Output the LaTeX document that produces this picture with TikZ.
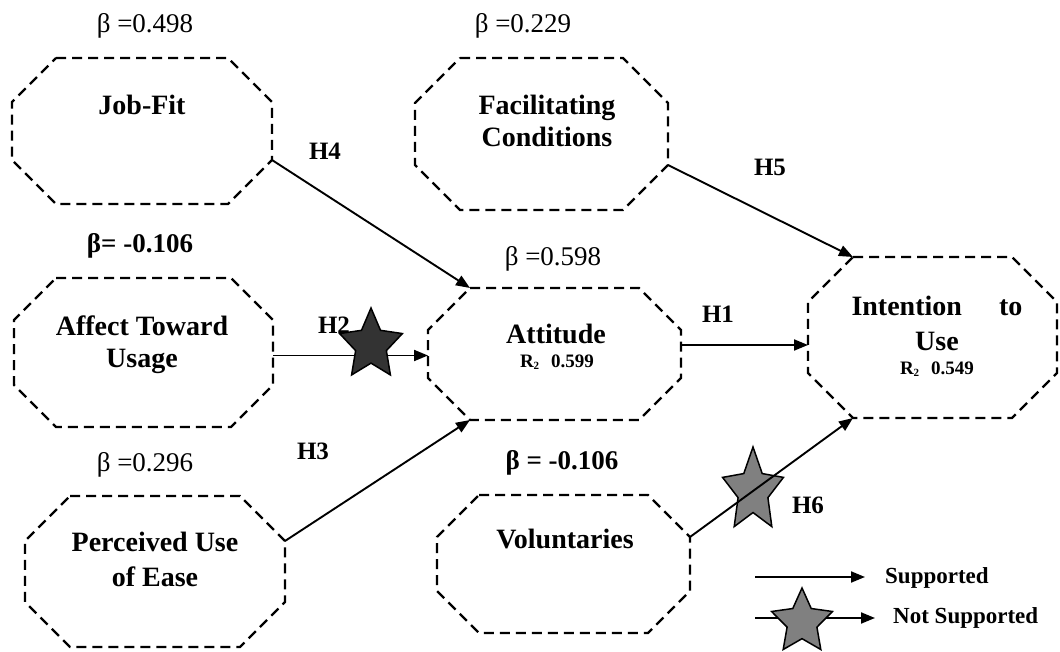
\documentclass[tikz,border=0pt]{standalone}
\usepackage{fontspec}
\setmainfont{Liberation Serif}
\usetikzlibrary{arrows.meta,calc}

% dashed octagon: name, left, top, right, bottom, chamfer
\newcommand\octagon[6]{%
  \draw[octo] (#2+#6,#3) -- (#4-#6,#3) -- (#4,#3+#6) -- (#4,#5-#6)
    -- (#4-#6,#5) -- (#2+#6,#5) -- (#2,#5-#6) -- (#2,#3+#6) -- cycle;
  \coordinate (#1) at ({(#2+#4)/2},{(#3+#5)/2});
  \coordinate (#1-e) at (#4,{(#3+#5)/2});
  \coordinate (#1-w) at (#2,{(#3+#5)/2});
  \coordinate (#1-tl) at (#2+#6,#3);
  \coordinate (#1-bl) at (#2+#6,#5);
  \coordinate (#1-rt) at (#4,#3+#6);
  \coordinate (#1-rb) at (#4,#5-#6);
}
% five-pointed star: name, x, y, x radius, y radius, style
\newcommand\fivestar[6]{%
  \coordinate (#1) at (#2,#3);
  \draw[#6] ($(#1)+(270:#4 and #5)$)
    \foreach \k in {1,...,9}{
      -- ($(#1)+({270+36*\k}:{#4*ifthenelse(mod(\k,2)==1,0.49,1)} and {#5*ifthenelse(mod(\k,2)==1,0.49,1)})$)
    } -- cycle;
}
\newcommand\rsq[1]{R\raisebox{-0.12em}{\fontsize{11}{11}\selectfont 2}\hspace{12pt}#1}

\begin{document}
\begin{tikzpicture}[x=1pt,y=-1pt,
  octo/.style={draw=black, line width=2.2pt, dash pattern=on 10pt off 6pt},
  link/.style={draw=black, line width=1.9pt, -{Triangle[length=14pt,width=11pt]}},
  lbl/.style={font=\fontsize{28}{30}\selectfont\bfseries, anchor=base, inner sep=0pt},
  beta/.style={font=\fontsize{27}{30}\selectfont, anchor=base, inner sep=0pt},
  betab/.style={font=\fontsize{27}{30}\selectfont\bfseries, anchor=base, inner sep=0pt},
  hyp/.style={font=\fontsize{25}{28}\selectfont\bfseries, anchor=base, inner sep=0pt},
  rsqlbl/.style={font=\fontsize{19}{22}\selectfont\bfseries, anchor=base, inner sep=0pt},
  legend/.style={font=\fontsize{23}{25}\selectfont\bfseries, anchor=base west, inner sep=0pt},
  darkstar/.style={draw=black, line width=1.5pt, fill=black!80},
  greystar/.style={draw=black, line width=1.5pt, fill=black!50},
]
\useasboundingbox (0,0) rectangle (1060,652);

% constructs
\octagon{jf}{12}{58}{272}{204}{44}
\octagon{fc}{415}{58}{668}{210}{45}
\octagon{atu}{14}{278}{273}{427}{42}
\octagon{peou}{25}{496}{285}{647}{45}
\octagon{att}{428}{288}{681}{420}{42}
\octagon{itu}{808}{257}{1057}{418}{45}
\octagon{vol}{437}{495}{690}{633}{42}

\node[lbl] (jf-t) at (142,115) {Job-Fit};
\node[lbl] (fc-t1) at (547,115) {Facilitating};
\node[lbl] (fc-t2) at (547,147) {Conditions};
\node[lbl] (atu-t1) at (142,335) {Affect Toward};
\node[lbl] (atu-t2) at (142,367) {Usage};
\node[lbl] (peou-t1) at (155,551) {Perceived Use};
\node[lbl] (peou-t2) at (155,586) {of Ease};
\node[lbl] (att-t) at (556,343) {Attitude};
\node[rsqlbl] (att-r) at (557,367) {\rsq{0.599}};
\node[lbl] (itu-t1) at (937,316) {\makebox[171pt][c]{Intention\hfill to}};
\node[lbl] (itu-t2) at (937,350) {Use};
\node[rsqlbl] (itu-r) at (937,374) {\rsq{0.549}};
\node[lbl] (vol-t) at (565,548) {Voluntaries};

% path coefficients
\node[beta] (b-jf) at (145,33) {β =0.498};
\node[beta] (b-fc) at (523,33) {β =0.229};
\node[betab] (b-atu) at (140,253) {β= -0.106};
\node[beta] (b-peou) at (145,471) {β =0.296};
\node[beta] (b-att) at (553,266) {β =0.598};
\node[betab] (b-vol) at (562,469) {β = -0.106};

% hypotheses
\draw[link] (jf-rb) -- (att-tl);
\draw[link] (fc-rb) -- (itu-tl);
\draw[link] ([yshift=-3pt]atu-e) -- ([yshift=-3pt]atu-e -| att-w);
\draw[link] ([yshift=9pt]att-e) -- ([yshift=9pt]att-e -| itu-w);
\draw[link] (peou-rt) -- (att-bl);
\fivestar{s2}{371}{345}{33}{37}{darkstar}
\fivestar{s6}{753}{491}{32}{44}{greystar}
\draw[link] (vol-rt) -- (itu-bl);

\node[hyp] (h4) at (325,160) {H4};
\node[hyp] (h5) at (770,176) {H5};
\node[hyp] (h2) at (334,334) {H2};
\node[hyp] (h1) at (718,323) {H1};
\node[hyp] (h3) at (313,459) {H3};
\node[hyp] (h6) at (808,513) {H6};

% legend
\coordinate (ls1) at (755,577);
\coordinate (le1) at (865,577);
\draw[link] (ls1) -- (le1);
\node[legend] (lt1) at (885,583) {Supported};
\coordinate (ls2) at (755,618);
\coordinate (le2) at (875,618);
\draw[link] (ls2) -- (le2);
\fivestar{s7}{802}{622}{32}{34}{greystar}
\node[legend] (lt2) at (893,623) {Not Supported};
\end{tikzpicture}
\end{document}
